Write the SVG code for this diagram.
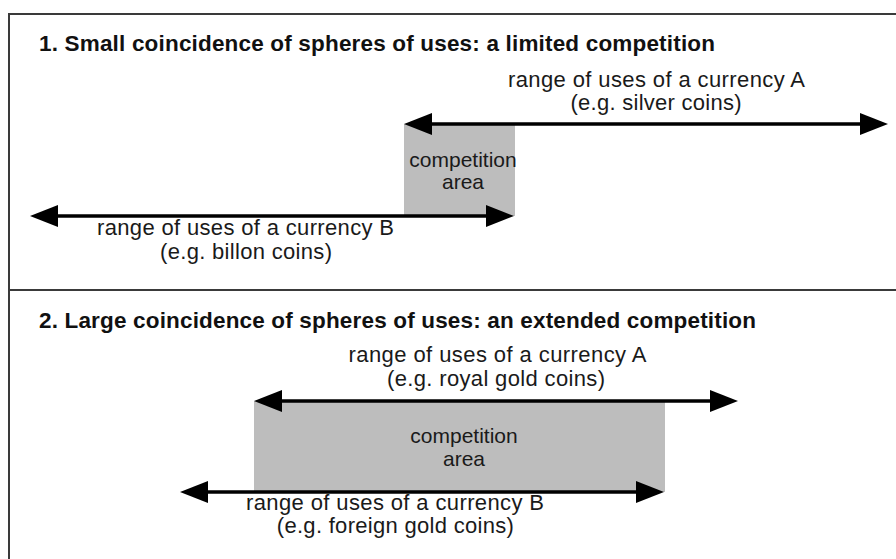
<svg xmlns="http://www.w3.org/2000/svg" width="896" height="559" viewBox="0 0 896 559">
<defs>
<marker id="ah" markerUnits="userSpaceOnUse" markerWidth="28" markerHeight="22" refX="8" refY="11" orient="auto-start-reverse" viewBox="0 0 28 22">
<path d="M0,0 L28,11 L0,22 z" fill="#000"/>
</marker>
<style>
.frame{fill:none;stroke:#3a3a3a;stroke-width:2}
.area{fill:#bdbdbd;stroke:none}
.arr{stroke:#000;stroke-width:3.5;fill:none;marker-start:url(#ah);marker-end:url(#ah)}
.title{font-family:"Liberation Sans",Arial,sans-serif;font-weight:bold;font-size:22.5px;fill:#111}
.lbl{font-family:"Liberation Sans",Arial,sans-serif;font-size:22px;fill:#1a1a1a;text-anchor:middle}
.ca{font-family:"Liberation Sans",Arial,sans-serif;font-size:21px;fill:#1a1a1a;text-anchor:middle}
</style>
</defs>
<rect class="frame" x="9" y="14" width="900" height="560"/>
<line class="frame" x1="9" y1="290" x2="900" y2="290"/>

<g id="section1">
<text class="title" x="39" y="51" textLength="676">1. Small coincidence of spheres of uses: a limited competition</text>
<g id="area1">
<rect class="area" x="404" y="124" width="111" height="92"/>
<text class="ca" x="463" y="167">competition</text>
<text class="ca" x="463" y="189">area</text>
</g>
<g id="labelA1">
<text class="lbl" x="656.5" y="87" textLength="297">range of uses of a currency A</text>
<text class="lbl" x="656" y="110" textLength="171">(e.g. silver coins)</text>
</g>
<g id="labelB1">
<text class="lbl" x="245.5" y="235" textLength="297">range of uses of a currency B</text>
<text class="lbl" x="246" y="259" textLength="172">(e.g. billon coins)</text>
</g>
</g>

<g id="section2">
<text class="title" x="39" y="328" textLength="717">2. Large coincidence of spheres of uses: an extended competition</text>
<g id="area2">
<rect class="area" x="254" y="401" width="411" height="91"/>
<text class="ca" x="464" y="443">competition</text>
<text class="ca" x="464" y="466">area</text>
</g>
<g id="labelA2">
<text class="lbl" x="497.5" y="362" textLength="298">range of uses of a currency A</text>
<text class="lbl" x="496" y="386" textLength="218">(e.g. royal gold coins)</text>
</g>
<g id="labelB2">
<text class="lbl" x="395" y="510" textLength="298">range of uses of a currency B</text>
<text class="lbl" x="395.3" y="533" textLength="237">(e.g. foreign gold coins)</text>
</g>
</g>

<g id="connectors">
<line class="arr" x1="424" y1="124" x2="868" y2="124"/>
<line class="arr" x1="50" y1="216" x2="494" y2="216"/>
<line class="arr" x1="274" y1="401" x2="718" y2="401"/>
<line class="arr" x1="200" y1="492" x2="644" y2="492"/>
</g>
</svg>
